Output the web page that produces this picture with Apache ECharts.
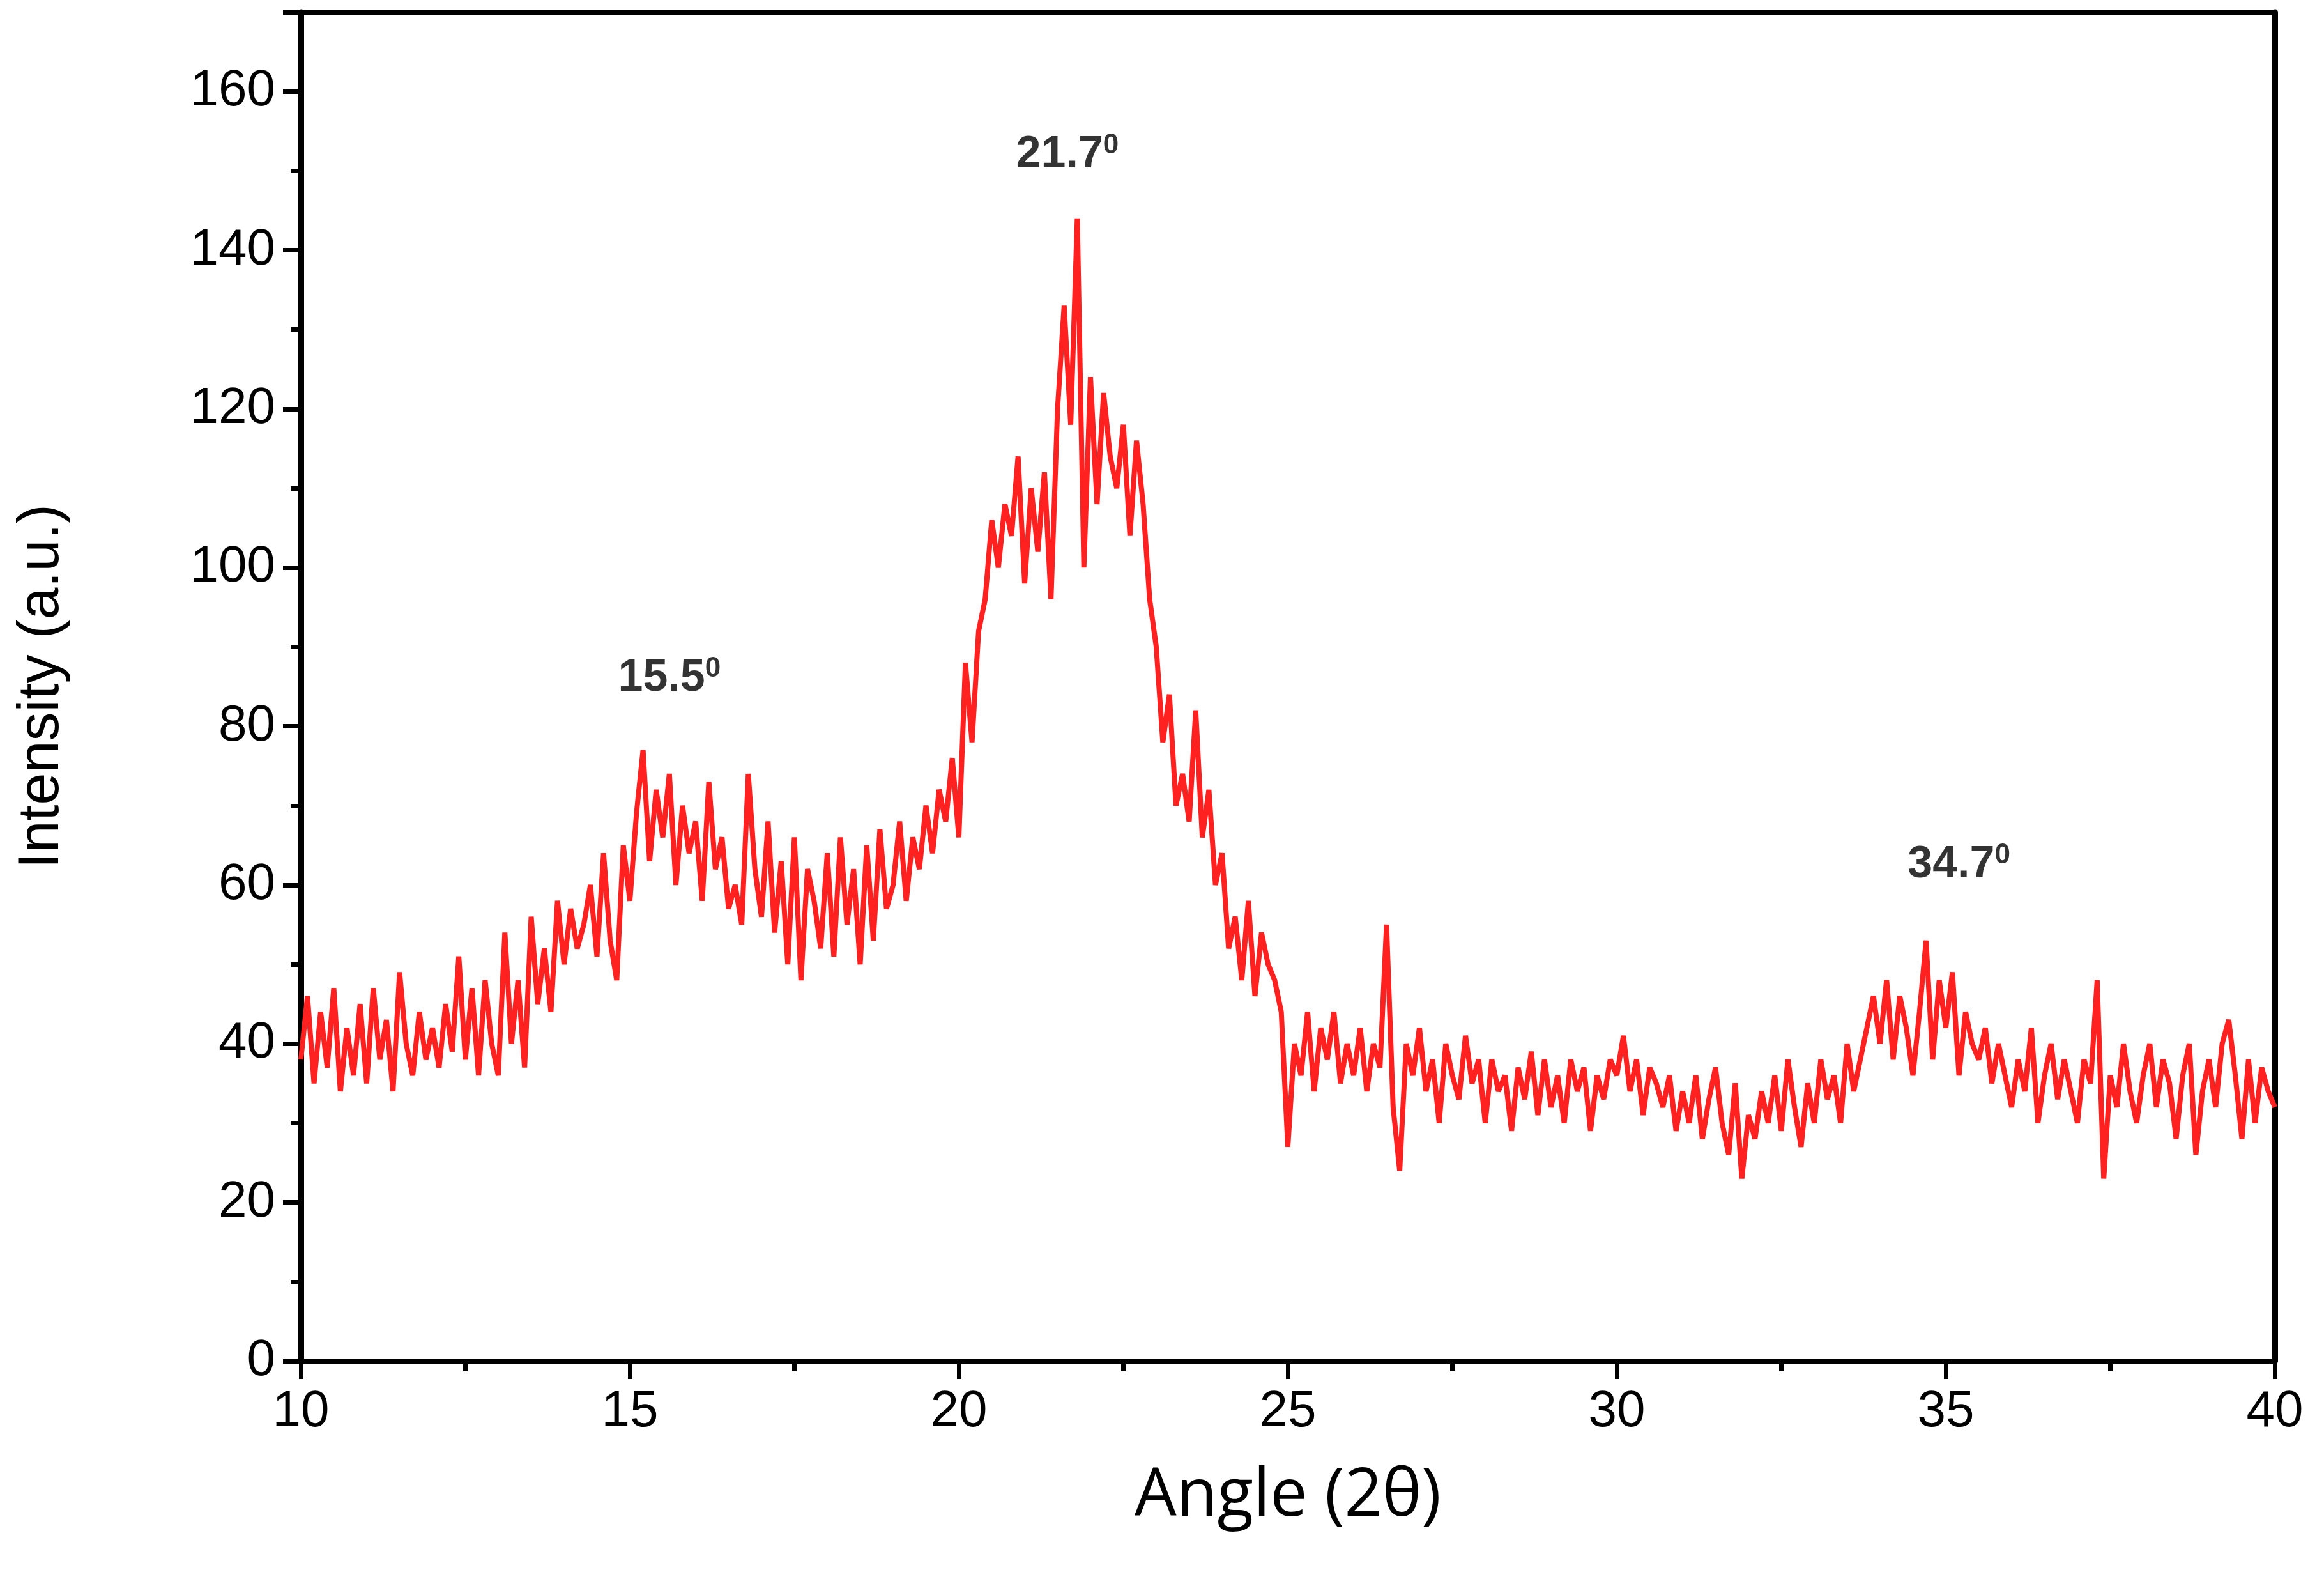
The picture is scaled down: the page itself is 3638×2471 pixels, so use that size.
<!DOCTYPE html>
<html>
<head>
<meta charset="utf-8">
<script src="https://cdn.jsdelivr.net/npm/echarts@6/dist/echarts.min.js"></script>
<style>html,body{margin:0;padding:0;background:#fff}#chart{width:3638px;height:2471px}</style>
</head>
<body>
<div id="chart"></div>
<script>
// XRD pattern, angle grid starts at 10 deg with 0.1 deg steps
const angleStart = 10;
const angleStep = 0.1;
const intensity = [
  38,46,35,44,37,47,34,42,36,45,
  35,47,38,43,34,49,40,36,44,38,
  42,37,45,39,51,38,47,36,48,40,
  36,54,40,48,37,56,45,52,44,58,
  50,57,52,55,60,51,64,53,48,65,
  58,69,77,63,72,66,74,60,70,64,
  68,58,73,62,66,57,60,55,74,62,
  56,68,54,63,50,66,48,62,58,52,
  64,51,66,55,62,50,65,53,67,57,
  60,68,58,66,62,70,64,72,68,76,
  66,88,78,92,96,106,100,108,104,114,
  98,110,102,112,96,120,133,118,144,100,
  124,108,122,114,110,118,104,116,108,96,
  90,78,84,70,74,68,82,66,72,60,
  64,52,56,48,58,46,54,50,48,44,
  27,40,36,44,34,42,38,44,35,40,
  36,42,34,40,37,55,32,24,40,36,
  42,34,38,30,40,36,33,41,35,38,
  30,38,34,36,29,37,33,39,31,38,
  32,36,30,38,34,37,29,36,33,38,
  36,41,34,38,31,37,35,32,36,29,
  34,30,36,28,33,37,30,26,35,23,
  31,28,34,30,36,29,38,32,27,35,
  30,38,33,36,30,40,34,38,42,46,
  40,48,38,46,42,36,44,53,38,48,
  42,49,36,44,40,38,42,35,40,36,
  32,38,34,42,30,36,40,33,38,34,
  30,38,35,48,23,36,32,40,34,30,
  36,40,32,38,35,28,36,40,26,34,
  38,32,40,43,36,28,38,30,37,34,
  32
];
// peak annotations: [x, y, text]
const peakLabels = [
  [15.6, 86, '15.5'],
  [21.65, 152, '21.7'],
  [35.2, 62.5, '34.7']
];

const data = intensity.map((v, i) => [+(angleStart + i * angleStep).toFixed(1), v]);

const chart = echarts.init(document.getElementById('chart'));
const axisFont = { fontFamily: 'Liberation Sans', color: '#000', fontSize: 80 };
const frame = { show: true, onZero: false, lineStyle: { color: '#000', width: 9 } };
chart.setOption({
  animation: false,
  grid: { left: 471, right: 77, top: 19, bottom: 341 },
  xAxis: [{
    type: 'value', min: 10, max: 40, interval: 5,
    name: 'Angle (2θ)', nameLocation: 'middle', nameGap: 160,
    nameTextStyle: { fontFamily: 'Open Sans', fontSize: 104, color: '#000' },
    axisLine: frame,
    axisTick: { length: 28, lineStyle: { width: 7, color: '#000' } },
    minorTick: { show: true, splitNumber: 2, length: 16, lineStyle: { width: 7, color: '#000' } },
    axisLabel: Object.assign({ margin: 40 }, axisFont),
    splitLine: { show: false }
  }, {
    type: 'value', min: 10, max: 40, position: 'top',
    axisLine: frame,
    axisTick: { show: false }, axisLabel: { show: false }, splitLine: { show: false }
  }],
  yAxis: [{
    type: 'value', min: 0, max: 170, interval: 20,
    name: 'Intensity (a.u.)', nameLocation: 'middle', nameGap: 360,
    nameTextStyle: { fontFamily: 'Liberation Sans', fontSize: 90, color: '#000' },
    axisLine: frame,
    axisTick: { length: 28, lineStyle: { width: 7, color: '#000' } },
    minorTick: { show: true, splitNumber: 2, length: 16, lineStyle: { width: 7, color: '#000' } },
    axisLabel: Object.assign({ margin: 40, showMaxLabel: false }, axisFont),
    splitLine: { show: false }
  }, {
    type: 'value', min: 0, max: 170, position: 'right',
    axisLine: frame,
    axisTick: { show: false }, axisLabel: { show: false }, splitLine: { show: false }
  }],
  series: [{
    type: 'line', data: data, symbol: 'none',
    lineStyle: { color: '#ff2020', width: 8 }
  }, {
    type: 'scatter', symbolSize: 0,
    data: peakLabels.map(p => ({ value: [p[0], p[1]], name: p[2] })),
    label: {
      show: true, position: 'inside', color: '#000',
      formatter: p => '{a|' + p.name + '}{s|0}',
      rich: {
        a: { fontFamily: 'Liberation Sans', fontWeight: 'bold', fontSize: 70, color: '#000' },
        s: { fontFamily: 'Liberation Sans', fontWeight: 'bold', fontSize: 44, color: '#000', verticalAlign: 'top', padding: [0, 0, 30, 0] }
      }
    }
  }]
});
</script>
</body>
</html>
